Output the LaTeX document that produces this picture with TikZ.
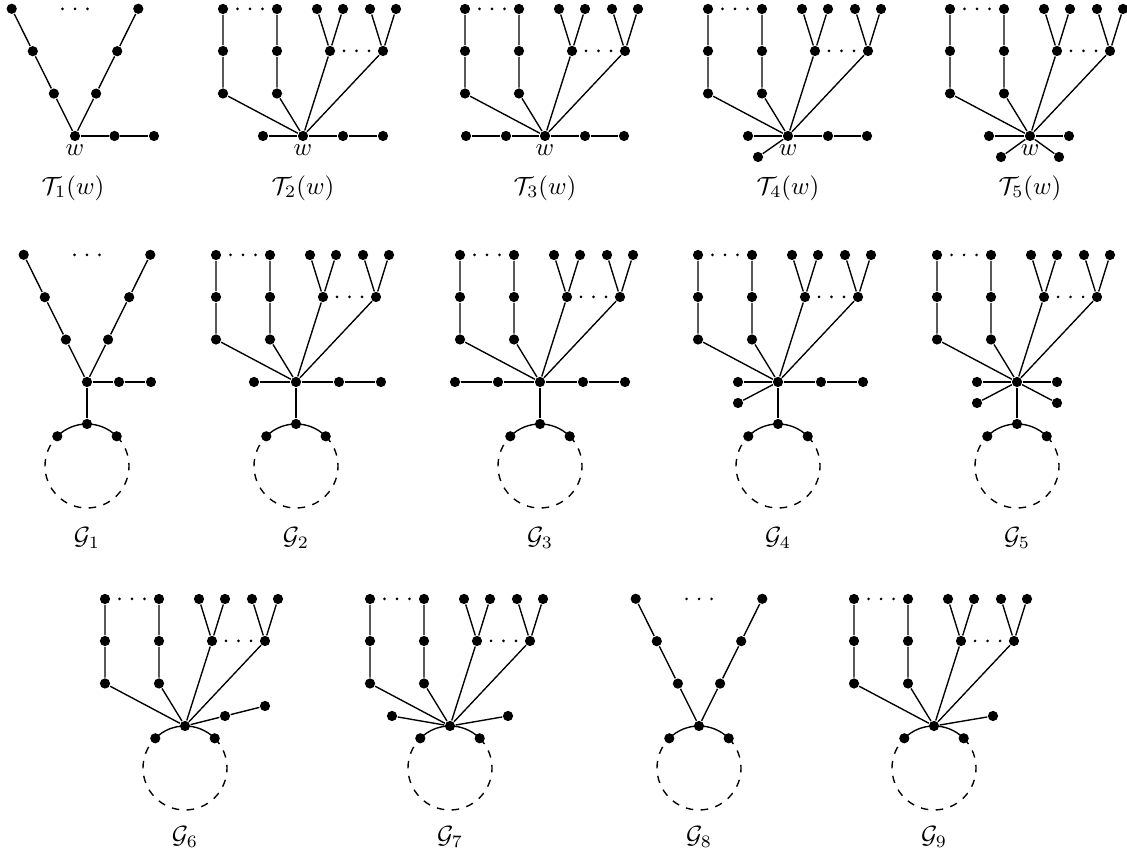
\documentclass[tikz,border=0pt]{standalone}
\usepackage{amsmath,amssymb}
\usepackage{tikz}
\usetikzlibrary{positioning,calc}
\tikzset{
  vtx/.style={circle,fill=black,inner sep=0pt,minimum size=4.1pt},
  wlab/.style={inner sep=1pt},
}
% three small dots centred at (#1,#2)
\newcommand{\ellip}[2]{\foreach \e in {-1,0,1}{\fill ({#1+12.5*\e},#2) circle[radius=0.6pt];}}
% two paths and two cherries hanging on the centre node (#1c)
\newcommand{\combtree}[1]{%
  \foreach \k/\dx in {a/-80,b/-26}{
    \node[vtx] (#1\k1) at (\dx,42.5) {};
    \node[vtx] (#1\k2) at (\dx,85) {};
    \node[vtx] (#1\k3) at (\dx,127) {};
    \draw (#1c) -- (#1\k1) -- (#1\k2) -- (#1\k3);
  }
  \foreach \k/\dx in {y/27,z/80}{
    \node[vtx] (#1\k0) at (\dx,85) {};
    \node[vtx] (#1\k1) at (\dx-13,127) {};
    \node[vtx] (#1\k2) at (\dx+13,127) {};
    \draw (#1c) -- (#1\k0) (#1\k1) -- (#1\k0) -- (#1\k2);
  }
  \ellip{-53}{127}\ellip{53.5}{85}%
}
% two slanted paths of length three above (#1c)
\newcommand{\vtree}[1]{%
  \foreach \i in {1,2,3}{
    \node[vtx] (#1l\i) at (-21.1*\i,42.4*\i) {};
    \node[vtx] (#1r\i) at (21.1*\i,42.4*\i) {};
  }
  \draw (#1l3) -- (#1l2) -- (#1l1) -- (#1c) -- (#1r1) -- (#1r2) -- (#1r3);
  \ellip{0}{127}%
}
% dashed cycle with centre (0,#2), solid arc on top
\newcommand{\ring}[2]{%
  \coordinate (#1o) at (0,#2);
  \node[vtx] (#1u) at (-29.7,#2+29.7) {};
  \node[vtx] (#1v) at (29.7,#2+29.7) {};
  \draw (#1u.center) arc[start angle=135,end angle=45,radius=42];
  \draw[dashed] (#1v.center) arc[start angle=45,end angle=-225,radius=42];
}

\begin{document}
\begin{tikzpicture}[x=0.0141cm,y=0.0141cm,line width=0.55pt]
  \useasboundingbox (0,0) rectangle (1127,856);

  % ---- first row: the trees T_i(w)
  \begin{scope}[shift={(75,720)}]
    \node[vtx,label={[wlab]below:$w$}] (t1c) at (0,0) {};
    \vtree{t1}
    \node[vtx] (t1p1) at (39.5,0) {};
    \node[vtx] (t1p2) at (79,0) {};
    \draw (t1c) -- (t1p1) -- (t1p2);
    \node (t1lab) at (-2,-52) {$\mathcal{T}_1(w)$};
  \end{scope}
  \begin{scope}[shift={(303,720)}]
    \node[vtx,label={[wlab]below:$w$}] (t2c) at (0,0) {};
    \combtree{t2}
    \node[vtx] (t2p0) at (-40,0) {};
    \node[vtx] (t2p1) at (40,0) {};
    \node[vtx] (t2p2) at (80,0) {};
    \draw (t2p0) -- (t2c) -- (t2p1) -- (t2p2);
    \node (t2lab) at (0,-52) {$\mathcal{T}_2(w)$};
  \end{scope}
  \begin{scope}[shift={(545,720)}]
    \node[vtx,label={[wlab]below:$w$}] (t3c) at (0,0) {};
    \combtree{t3}
    \node[vtx] (t3m2) at (-79,0) {};
    \node[vtx] (t3m1) at (-39,0) {};
    \node[vtx] (t3p1) at (40,0) {};
    \node[vtx] (t3p2) at (79,0) {};
    \draw (t3m2) -- (t3m1) -- (t3c) -- (t3p1) -- (t3p2);
    \node (t3lab) at (0,-52) {$\mathcal{T}_3(w)$};
  \end{scope}
  \begin{scope}[shift={(788,720)}]
    \node[vtx,label={[wlab]below:$w$}] (t4c) at (0,0) {};
    \combtree{t4}
    \node[vtx] (t4p0) at (-40,0) {};
    \node[vtx] (t4p1) at (40,0) {};
    \node[vtx] (t4p2) at (79,0) {};
    \node[vtx] (t4d1) at (-30,-21) {};
    \draw (t4p0) -- (t4c) -- (t4p1) -- (t4p2);
    \draw (t4c) -- (t4d1);
    \node (t4lab) at (0,-52) {$\mathcal{T}_4(w)$};
  \end{scope}
  \begin{scope}[shift={(1030,720)}]
    \node[vtx,label={[wlab]below:$w$}] (t5c) at (0,0) {};
    \combtree{t5}
    \node[vtx] (t5p0) at (-41,0) {};
    \node[vtx] (t5p1) at (39,0) {};
    \node[vtx] (t5d1) at (-29,-21) {};
    \node[vtx] (t5d2) at (29,-21) {};
    \draw (t5p0) -- (t5c) -- (t5p1);
    \draw (t5d1) -- (t5c) -- (t5d2);
    \node (t5lab) at (0,-52) {$\mathcal{T}_5(w)$};
  \end{scope}

  % ---- second row: G_1 ... G_5, cycle hung by a pendant edge
  \begin{scope}[shift={(87,474)}]
    \node[vtx] (g1c) at (0,0) {};
    \vtree{g1}
    \node[vtx] (g1p1) at (32,0) {};
    \node[vtx] (g1p2) at (64,0) {};
    \node[vtx] (g1t) at (0,-42) {};
    \draw (g1c) -- (g1p1) -- (g1p2);
    \draw (g1c) -- (g1t);
    \ring{g1}{-84}
    \node (g1lab) at (0,-156) {$\mathcal{G}_1$};
  \end{scope}
  \begin{scope}[shift={(296,474)}]
    \node[vtx] (g2c) at (0,0) {};
    \combtree{g2}
    \node[vtx] (g2p0) at (-42,0) {};
    \node[vtx] (g2p1) at (43,0) {};
    \node[vtx] (g2p2) at (85,0) {};
    \node[vtx] (g2t) at (0,-42) {};
    \draw (g2p0) -- (g2c) -- (g2p1) -- (g2p2);
    \draw (g2c) -- (g2t);
    \ring{g2}{-84}
    \node (g2lab) at (0,-156) {$\mathcal{G}_2$};
  \end{scope}
  \begin{scope}[shift={(540,474)}]
    \node[vtx] (g3c) at (0,0) {};
    \combtree{g3}
    \node[vtx] (g3m2) at (-85,0) {};
    \node[vtx] (g3m1) at (-42,0) {};
    \node[vtx] (g3p1) at (43,0) {};
    \node[vtx] (g3p2) at (85,0) {};
    \node[vtx] (g3t) at (0,-42) {};
    \draw (g3m2) -- (g3m1) -- (g3c) -- (g3p1) -- (g3p2);
    \draw (g3c) -- (g3t);
    \ring{g3}{-84}
    \node (g3lab) at (0,-156) {$\mathcal{G}_3$};
  \end{scope}
  \begin{scope}[shift={(778,474)}]
    \node[vtx] (g4c) at (0,0) {};
    \combtree{g4}
    \node[vtx] (g4p0) at (-40,0) {};
    \node[vtx] (g4p1) at (43,0) {};
    \node[vtx] (g4p2) at (85,0) {};
    \node[vtx] (g4d1) at (-40,-21) {};
    \node[vtx] (g4t) at (0,-42) {};
    \draw (g4p0) -- (g4c) -- (g4p1) -- (g4p2);
    \draw (g4c) -- (g4d1);
    \draw (g4c) -- (g4t);
    \ring{g4}{-84}
    \node (g4lab) at (0,-156) {$\mathcal{G}_4$};
  \end{scope}
  \begin{scope}[shift={(1017,474)}]
    \node[vtx] (g5c) at (0,0) {};
    \combtree{g5}
    \node[vtx] (g5p0) at (-40,0) {};
    \node[vtx] (g5p1) at (40,0) {};
    \node[vtx] (g5d1) at (-40,-21) {};
    \node[vtx] (g5d2) at (40,-21) {};
    \node[vtx] (g5t) at (0,-42) {};
    \draw (g5p0) -- (g5c) -- (g5p1);
    \draw (g5d1) -- (g5c) -- (g5d2);
    \draw (g5c) -- (g5t);
    \ring{g5}{-84}
    \node (g5lab) at (0,-156) {$\mathcal{G}_5$};
  \end{scope}

  % ---- third row: G_6 ... G_9, centre sits on the cycle
  \begin{scope}[shift={(185,130)}]
    \node[vtx] (g6c) at (0,0) {};
    \combtree{g6}
    \node[vtx] (g6p1) at (40,10) {};
    \node[vtx] (g6p2) at (80,20) {};
    \draw (g6c) -- (g6p1) -- (g6p2);
    \ring{g6}{-42}
    \node (g6lab) at (0,-111) {$\mathcal{G}_6$};
  \end{scope}
  \begin{scope}[shift={(450,130)}]
    \node[vtx] (g7c) at (0,0) {};
    \combtree{g7}
    \node[vtx] (g7p0) at (-58,10) {};
    \node[vtx] (g7p1) at (58,10) {};
    \draw (g7p0) -- (g7c) -- (g7p1);
    \ring{g7}{-42}
    \node (g7lab) at (0,-111) {$\mathcal{G}_7$};
  \end{scope}
  \begin{scope}[shift={(699,130)}]
    \node[vtx] (g8c) at (0,0) {};
    \vtree{g8}
    \ring{g8}{-42}
    \node (g8lab) at (0,-111) {$\mathcal{G}_8$};
  \end{scope}
  \begin{scope}[shift={(934,130)}]
    \node[vtx] (g9c) at (0,0) {};
    \combtree{g9}
    \node[vtx] (g9p1) at (59,10) {};
    \draw (g9c) -- (g9p1);
    \ring{g9}{-42}
    \node (g9lab) at (0,-111) {$\mathcal{G}_9$};
  \end{scope}
\end{tikzpicture}
\end{document}
